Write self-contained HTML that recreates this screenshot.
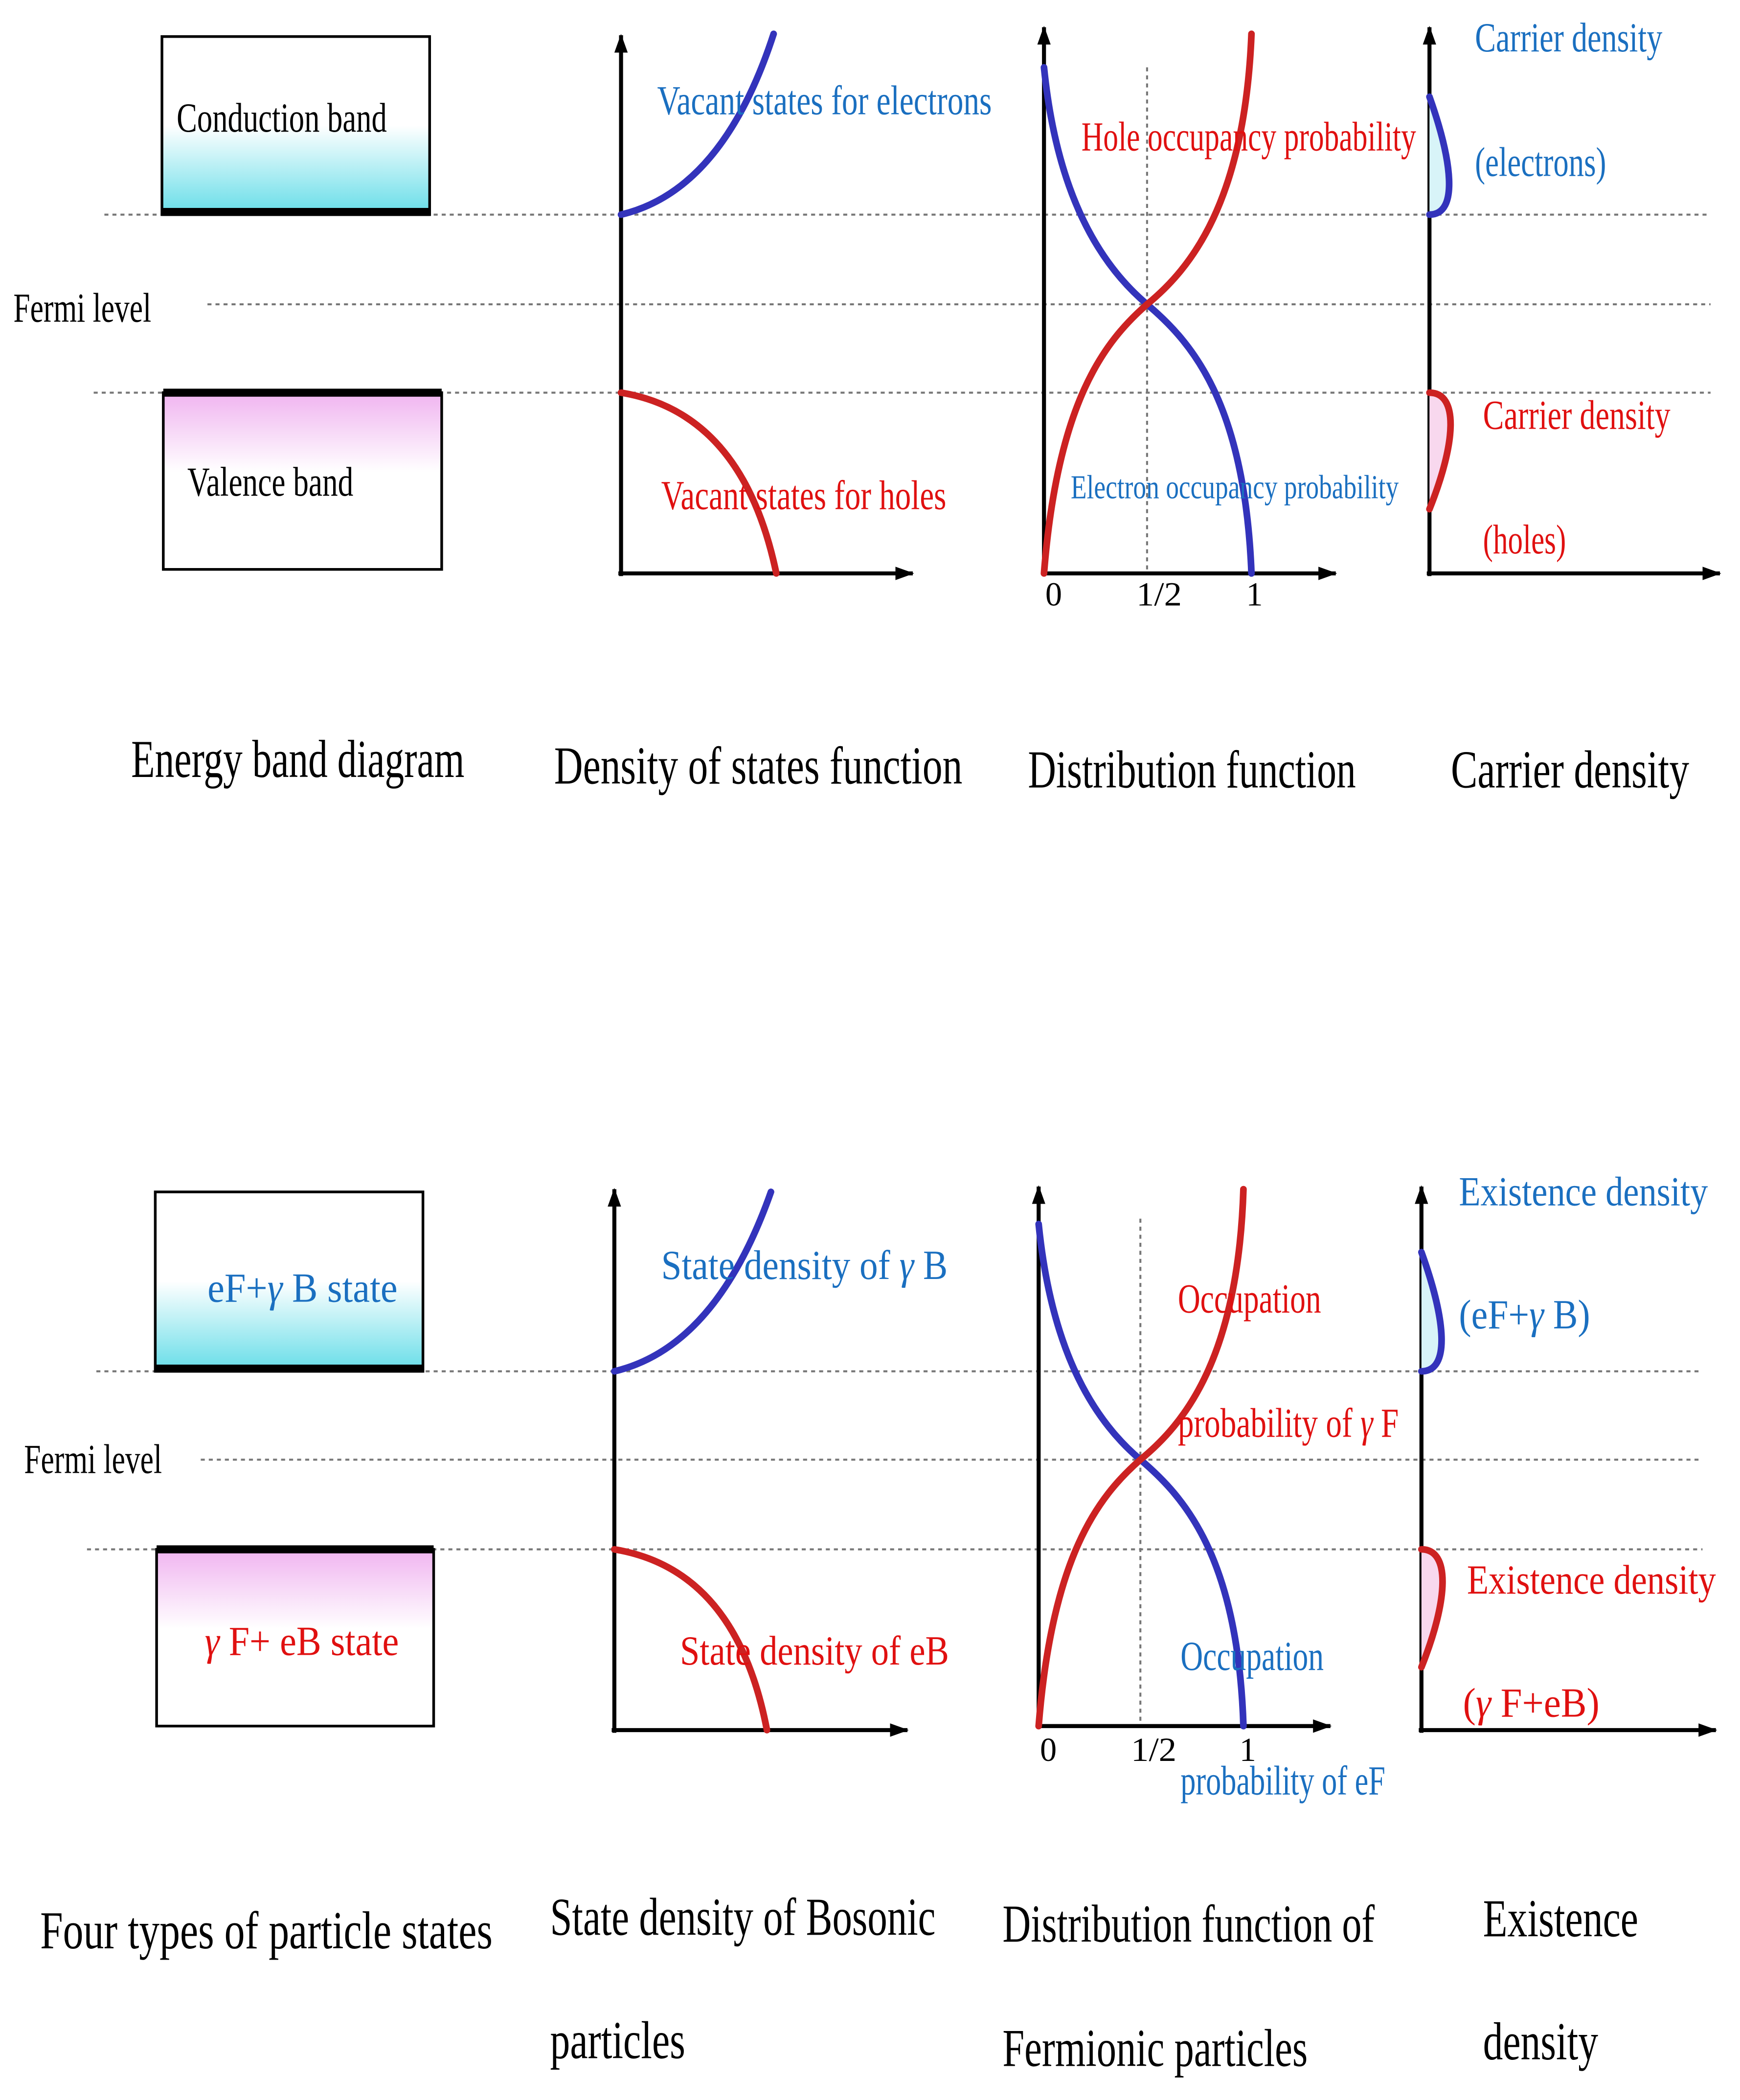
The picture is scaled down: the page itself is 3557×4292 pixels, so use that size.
<!DOCTYPE html>
<html><head><meta charset="utf-8"><style>
html,body{margin:0;padding:0;background:#fff}
svg{display:block}
text{font-family:"Liberation Serif","Noto Serif CJK SC",serif}
</style></head><body>
<svg width="3557" height="4292" viewBox="0 0 1300 1568" xmlns="http://www.w3.org/2000/svg">
<defs>
<linearGradient id="cy" x1="0" y1="0" x2="0" y2="1"><stop offset="0.5" stop-color="#fff"/><stop offset="1" stop-color="#66dde8"/></linearGradient>
<linearGradient id="pk" x1="0" y1="0" x2="0" y2="1"><stop offset="0" stop-color="#f0b4f0"/><stop offset="0.45" stop-color="#fff"/></linearGradient>
<marker id="ar2" markerWidth="14" markerHeight="14" refX="13" refY="7" orient="auto" markerUnits="userSpaceOnUse"><path d="M0,2 L14,7 L0,12 Z" fill="#000"/></marker>
</defs>
<g stroke="#777" stroke-width="1.5" stroke-dasharray="3,3" fill="none">
<line x1="78" y1="160" x2="1278" y2="160"/><line x1="155" y1="227" x2="1278" y2="227"/><line x1="70" y1="293" x2="1278" y2="293"/>
<line x1="72" y1="1024" x2="1272" y2="1024"/><line x1="150" y1="1090" x2="1272" y2="1090"/><line x1="65" y1="1157" x2="1272" y2="1157"/>
<line x1="857" y1="50" x2="857" y2="428"/><line x1="852" y1="910" x2="852" y2="1289"/>
</g>
<rect x="121" y="27" width="200" height="133" fill="url(#cy)" stroke="#000" stroke-width="2"/>
<line x1="121" y1="158" x2="321" y2="158" stroke="#000" stroke-width="6"/>
<rect x="122" y="293" width="208" height="132" fill="url(#pk)" stroke="#000" stroke-width="2"/>
<line x1="122" y1="293" x2="330" y2="293" stroke="#000" stroke-width="6"/>
<rect x="116" y="890" width="200" height="134" fill="url(#cy)" stroke="#000" stroke-width="2"/>
<line x1="116" y1="1022" x2="316" y2="1022" stroke="#000" stroke-width="6"/>
<rect x="117" y="1157" width="207" height="132" fill="url(#pk)" stroke="#000" stroke-width="2"/>
<line x1="117" y1="1157" x2="324" y2="1157" stroke="#000" stroke-width="6"/>
<g stroke="#000" stroke-width="3" fill="none" marker-end="url(#ar2)">
<line x1="464" y1="430" x2="464" y2="26"/><line x1="462" y1="428" x2="682" y2="428"/>
<line x1="780" y1="430" x2="780" y2="20"/><line x1="778" y1="428" x2="998" y2="428"/>
<line x1="1068" y1="430" x2="1068" y2="20"/><line x1="1066" y1="428" x2="1285" y2="428"/>
<line x1="459" y1="1294" x2="459" y2="888"/><line x1="457" y1="1292" x2="678" y2="1292"/>
<line x1="776" y1="1291" x2="776" y2="886"/><line x1="774" y1="1289" x2="994" y2="1289"/>
<line x1="1062" y1="1294" x2="1062" y2="886"/><line x1="1060" y1="1292" x2="1282" y2="1292"/>
</g>
<g fill="none" stroke-width="5" stroke-linecap="round">
<path d="M464,160 Q540,142 578,25" stroke="#3333bb"/>
<path d="M464,293 Q555,308 580,428" stroke="#cc2222"/>
<path d="M780,50 C790,150 825,200 857,227 C890,255 930,300 935,428" stroke="#3333bb"/>
<path d="M780,428 C790,300 825,255 857,227 C890,200 930,150 935,25" stroke="#cc2222"/>
<path d="M1068,160 C1090,160 1085,120 1068,72" stroke="#3333bb" fill="#d8f4f8"/>
<path d="M1068,293 C1090,293 1088,330 1068,380" stroke="#cc2222" fill="#f8d8ee"/>
<path d="M459,1024 Q535,1006 576,890" stroke="#3333bb"/>
<path d="M459,1157 Q550,1172 573,1292" stroke="#cc2222"/>
<path d="M776,914 C786,1014 820,1063 852,1090 C885,1118 925,1163 929,1289" stroke="#3333bb"/>
<path d="M776,1289 C786,1163 820,1118 852,1090 C885,1063 925,1014 929,888" stroke="#cc2222"/>
<path d="M1062,1024 C1084,1024 1080,985 1062,935" stroke="#3333bb" fill="#d8f4f8"/>
<path d="M1062,1157 C1084,1157 1082,1195 1062,1245" stroke="#cc2222" fill="#f8d8ee"/>
</g>
<g font-size="31">
<text x="132" y="98" textLength="157" lengthAdjust="spacingAndGlyphs">Conduction band</text>
<text x="140" y="370" textLength="124" lengthAdjust="spacingAndGlyphs">Valence band</text>
<text x="10" y="240" textLength="103" lengthAdjust="spacingAndGlyphs">Fermi level</text>
<text x="491" y="85" fill="#1a6fc0" textLength="250" lengthAdjust="spacingAndGlyphs">Vacant states for electrons</text>
<text x="494" y="380" fill="#e01010" textLength="213" lengthAdjust="spacingAndGlyphs">Vacant states for holes</text>
<text x="808" y="112" fill="#e01010" textLength="250" lengthAdjust="spacingAndGlyphs">Hole occupancy probability</text>
<text x="800" y="372" fill="#1a6fc0" font-size="25" textLength="245" lengthAdjust="spacingAndGlyphs">Electron occupancy probability</text>
<text x="1102" y="38" fill="#1a6fc0" textLength="140" lengthAdjust="spacingAndGlyphs">Carrier density</text>
<text x="1102" y="131" fill="#1a6fc0" textLength="98" lengthAdjust="spacingAndGlyphs">(electrons)</text>
<text x="1108" y="320" fill="#e01010" textLength="140" lengthAdjust="spacingAndGlyphs">Carrier density</text>
<text x="1108" y="413" fill="#e01010" textLength="62" lengthAdjust="spacingAndGlyphs">(holes)</text>
<text x="781" y="452" font-size="25">0</text><text x="849" y="452" font-size="25" textLength="34" lengthAdjust="spacingAndGlyphs">1/2</text><text x="931" y="452" font-size="25">1</text>
</g>
<g font-size="40">
<text x="98" y="580" textLength="249" lengthAdjust="spacingAndGlyphs">Energy band diagram</text>
<text x="414" y="585" textLength="305" lengthAdjust="spacingAndGlyphs">Density of states function</text>
<text x="768" y="588" textLength="245" lengthAdjust="spacingAndGlyphs">Distribution function</text>
<text x="1084" y="588" textLength="178" lengthAdjust="spacingAndGlyphs">Carrier density</text>
</g>
<g font-size="31">
<text x="18" y="1100" textLength="103" lengthAdjust="spacingAndGlyphs">Fermi level</text>
<text x="155" y="972" fill="#1a6fc0" textLength="142" lengthAdjust="spacingAndGlyphs">eF+<tspan font-style="italic">γ</tspan> B state</text>
<text x="153" y="1236" fill="#e01010" textLength="145" lengthAdjust="spacingAndGlyphs"><tspan font-style="italic">γ</tspan> F+ eB state</text>
<text x="494" y="955" fill="#1a6fc0" textLength="214" lengthAdjust="spacingAndGlyphs">State density of <tspan font-style="italic">γ</tspan> B</text>
<text x="508" y="1243" fill="#e01010" textLength="201" lengthAdjust="spacingAndGlyphs">State density of eB</text>
<text x="880" y="980" fill="#e01010" textLength="107" lengthAdjust="spacingAndGlyphs">Occupation</text>
<text x="880" y="1073" fill="#e01010" textLength="165" lengthAdjust="spacingAndGlyphs">probability of <tspan font-style="italic">γ</tspan> F</text>
<text x="882" y="1247" fill="#1a6fc0" textLength="107" lengthAdjust="spacingAndGlyphs">Occupation</text>
<text x="882" y="1340" fill="#1a6fc0" textLength="153" lengthAdjust="spacingAndGlyphs">probability of eF</text>
<text x="1090" y="900" fill="#1a6fc0" textLength="186" lengthAdjust="spacingAndGlyphs">Existence density</text>
<text x="1090" y="992" fill="#1a6fc0" textLength="98" lengthAdjust="spacingAndGlyphs">(eF+<tspan font-style="italic">γ</tspan> B)</text>
<text x="1096" y="1190" fill="#e01010" textLength="186" lengthAdjust="spacingAndGlyphs">Existence density</text>
<text x="1093" y="1282" fill="#e01010" textLength="102" lengthAdjust="spacingAndGlyphs">(<tspan font-style="italic">γ</tspan> F+eB)</text>
<text x="777" y="1315" font-size="25">0</text><text x="845" y="1315" font-size="25" textLength="34" lengthAdjust="spacingAndGlyphs">1/2</text><text x="926" y="1315" font-size="25">1</text>
</g>
<g font-size="40">
<text x="30" y="1455" textLength="338" lengthAdjust="spacingAndGlyphs">Four types of particle states</text>
<text x="411" y="1445" textLength="288" lengthAdjust="spacingAndGlyphs">State density of Bosonic</text>
<text x="411" y="1537" textLength="101" lengthAdjust="spacingAndGlyphs">particles</text>
<text x="749" y="1450" textLength="278" lengthAdjust="spacingAndGlyphs">Distribution function of</text>
<text x="749" y="1543" textLength="228" lengthAdjust="spacingAndGlyphs">Fermionic particles</text>
<text x="1108" y="1446" textLength="116" lengthAdjust="spacingAndGlyphs">Existence</text>
<text x="1108" y="1538" textLength="86" lengthAdjust="spacingAndGlyphs">density</text>
</g>
</svg>
</body></html>
